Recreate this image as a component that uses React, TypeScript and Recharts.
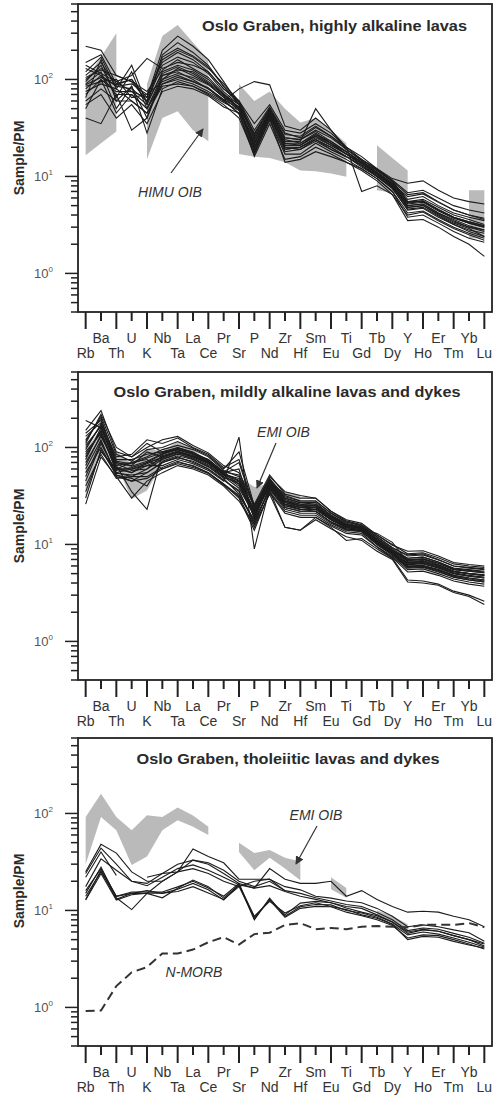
import React from 'react'
import { ComposedChart, Line, Area, XAxis, YAxis } from 'recharts'

// element order of the spider diagram
const elements = ['Rb', 'Ba', 'Th', 'U', 'K', 'Nb', 'Ta', 'La', 'Ce', 'Pr', 'Sr', 'P', 'Nd', 'Zr', 'Hf', 'Sm', 'Eu', 'Ti', 'Gd', 'Tb', 'Dy', 'Y', 'Ho', 'Er', 'Tm', 'Yb', 'Lu']

const xTicks = elements.map((_, i) => i)
const yTicks = [0.4, 0.5, 0.6, 0.7, 0.8, 0.9, 1, 2, 3, 4, 5, 6, 7, 8, 9, 10, 20, 30, 40, 50, 60, 70, 80, 90, 100, 200, 300, 400, 500, 600]
const yMajor = [1, 10, 100]

const N = null

// HIMU OIB field (top panel), low / high edge
const himuLow = [16.5, 22, 29, N, 15, 40, 47, 30, 23, N, 17, 16, 15.5, 14, 11.5, 11.3, 10.7, 9.9, N, 7.2, 6.8, 6.3, N, N, N, 2.3, 2.3]
const himuHigh = [100, 170, 300, N, 90, 280, 365, 240, 160, N, 90, 60, 75, 50, 36, 40, 30, 22, N, 21, 15.5, 11.5, N, N, N, 7.2, 7.2]

// EMI OIB field (middle and bottom panels)
const emiLow = [30, 92, 67, 29.5, 36, 67, 85, 73, 60, N, 40, 26, 35, 27, 20.5, N, 16.5, 13.5, N, 8.7, 7.0, 6.0, N, N, N, N, N]
const emiHigh = [92, 160, 92, 67, 96, 92, 115, 95, 73, N, 50, 39, 42, 35, 32, N, 22, 17, N, 10, 8.8, 7.2, N, N, N, N, N]

// N-MORB reference pattern
const nMorb = [0.92, 0.93, 1.66, 2.3, 2.6, 3.6, 3.6, 3.95, 4.7, 5.3, 4.45, 5.7, 5.9, 7.1, 7.4, 6.4, 6.6, 6.4, 6.8, 6.9, 6.8, 6.7, 7.1, 7.1, 7.1, 7.4, 6.7]

// highly alkaline lavas
const highlyAlkaline = [
    [220, 200, 110, 95, 60, 160, 200, 170, 130, 90, 60, 35, 55, 30, 28, 35, 28, 20, 16, 12, 9, 5.5, 5.8, 4.8, 4.0, 3.6, 3.2],
    [150, 180, 90, 100, 65, 200, 280, 220, 160, 95, 55, 28, 50, 25, 24, 30, 25, 19, 15, 11.5, 9, 6.5, 6.8, 5.5, 4.5, 4.0, 3.6],
    [120, 170, 80, 140, 55, 180, 240, 190, 140, 85, 55, 24, 48, 24, 22, 28, 22, 18, 14, 11, 8.5, 5.5, 5.5, 4.5, 3.8, 3.3, 3.0],
    [100, 130, 95, 110, 165, 130, 150, 140, 120, 80, 60, 30, 52, 28, 25, 32, 26, 20, 15, 12, 9.5, 8.5, 9.0, 7.2, 6.0, 5.5, 5.2],
    [80, 110, 70, 70, 50, 100, 130, 110, 90, 65, 48, 20, 42, 20, 20, 25, 21, 17, 13, 10.5, 8, 5, 5.2, 4.2, 3.5, 3.0, 2.8],
    [60, 80, 60, 60, 45, 90, 100, 90, 75, 60, 45, 18, 40, 18, 19, 24, 20, 16, 12.5, 10, 7.5, 4.6, 4.8, 3.9, 3.2, 2.8, 2.6],
    [40, 35, 70, 30, 40, 110, 120, 100, 80, 62, 50, 22, 44, 21, 21, 26, 21, 17, 13.5, 10.8, 8.2, 4.8, 5.0, 4.0, 3.3, 2.9, 2.4],
    [90, 120, 50, 85, 28, 80, 95, 85, 70, 55, 40, 17, 38, 17, 17, 22, 18, 15, 12, 9.5, 7, 4.2, 4.4, 3.6, 3.0, 2.6, 2.3],
    [110, 150, 85, 80, 60, 140, 170, 150, 115, 75, 55, 25, 46, 22, 22, 27, 23, 18, 14, 11.5, 8.8, 5.8, 6.2, 5.0, 4.2, 3.8, 3.5],
    [70, 100, 75, 75, 55, 120, 140, 125, 100, 70, 52, 21, 45, 21, 21, 27, 22, 17, 13.5, 10.5, 8.0, 5.2, 5.4, 4.4, 3.7, 3.3, 3.0],
    [85, 95, 100, 65, 70, 95, 110, 95, 80, 60, 80, 95, 88, 33, 30, 40, 30, 20, 7, 8, 6.5, 4.0, 4.3, 3.5, 2.9, 2.5, 2.2],
    [55, 70, 40, 55, 35, 75, 85, 80, 68, 52, 45, 16, 35, 15, 16, 20, 17, 14, 11.5, 9, 6.5, 3.5, 3.6, 3.0, 2.4, 2.0, 1.5],
    [130, 110, 85, 90, 70, 150, 190, 160, 120, 80, 58, 27, 50, 23, 23, 50, 30, 19, 14.5, 11, 8.5, 5.4, 5.6, 4.6, 3.8, 3.4, 3.1],
    [95, 140, 65, 120, 50, 110, 125, 120, 95, 70, 55, 19, 44, 19, 20, 24, 20, 16, 13, 10, 7.6, 4.5, 4.7, 3.8, 3.2, 2.7, 2.4],
    [75, 90, 80, 60, 45, 85, 90, 85, 72, 58, 48, 20, 42, 20, 19, 23, 19, 16, 13, 10, 7.8, 5.0, 5.2, 4.2, 3.6, 3.1, 2.8],
    [105, 125, 110, 95, 75, 125, 160, 130, 105, 72, 50, 23, 47, 25, 24, 29, 23, 18, 14, 11, 8.4, 6.2, 6.6, 5.4, 4.5, 4.0, 3.7],
    [65, 160, 60, 85, 40, 100, 115, 105, 88, 66, 52, 18, 43, 19, 20, 24, 19, 16, 13, 10.2, 7.8, 4.8, 5.0, 4.1, 3.4, 3.0, 2.7],
    [140, 115, 95, 75, 65, 170, 210, 175, 135, 85, 60, 26, 50, 27, 26, 33, 26, 19, 14.8, 11.8, 9.2, 6.8, 7.2, 6.0, 5.0, 4.5, 4.2],
    [50, 100, 45, 70, 50, 90, 105, 95, 82, 62, 44, 17, 40, 14, 15, 18, 16, 14, 12, 9.5, 7.0, 3.8, 4.0, 3.3, 2.7, 2.3, 2.1],
    [88, 105, 88, 100, 58, 115, 135, 115, 92, 68, 50, 22, 46, 22, 21, 26, 22, 17, 14, 10.8, 8.2, 5.3, 5.6, 4.5, 3.8, 3.4, 3.1],
]

// mildly alkaline lavas and dykes
const mildlyAlkaline = [
    [150, 240, 90, 80, 110, 90, 95, 85, 75, 55, 45, 22, 42, 28, 25, 25, 19, 16, 15, 11, 8.5, 6.8, 7.0, 6.2, 5.3, 5.0, 4.8],
    [120, 200, 70, 65, 90, 80, 90, 80, 70, 52, 40, 20, 40, 27, 24, 24, 18, 15.5, 14.5, 10.5, 8.2, 6.5, 6.6, 6.0, 5.2, 5.0, 4.8],
    [100, 170, 60, 55, 70, 85, 100, 90, 72, 55, 60, 18, 45, 30, 27, 26, 20, 16, 15, 11.5, 9, 7.2, 7.4, 6.6, 5.6, 5.4, 5.2],
    [80, 150, 55, 50, 60, 75, 85, 78, 66, 50, 42, 21, 41, 26, 24, 23, 18, 15, 14, 10.5, 8.3, 6.2, 6.3, 5.7, 5.0, 4.7, 4.5],
    [190, 160, 65, 70, 80, 95, 105, 95, 80, 58, 50, 25, 46, 32, 28, 28, 21, 17, 15.5, 12, 9.2, 7.8, 8.0, 7.0, 6.0, 5.8, 5.6],
    [60, 120, 50, 45, 55, 70, 80, 70, 60, 46, 35, 17, 38, 24, 22, 22, 17, 14.5, 13.8, 10, 7.8, 5.8, 5.9, 5.3, 4.6, 4.3, 4.1],
    [45, 110, 55, 60, 65, 65, 75, 68, 58, 45, 128, 9, 38, 25, 23, 22, 17, 14.5, 14, 10.5, 8.0, 6.0, 6.0, 5.5, 4.8, 4.5, 4.3],
    [130, 180, 80, 85, 120, 110, 125, 100, 85, 62, 75, 24, 50, 35, 32, 30, 22, 17.5, 16, 12.5, 9.8, 8.5, 8.6, 7.6, 6.5, 6.2, 6.0],
    [35, 90, 60, 70, 75, 60, 70, 65, 55, 42, 30, 14, 35, 22, 20, 20, 16, 13.5, 13, 9.5, 7.5, 5.5, 5.6, 5.0, 4.4, 4.1, 3.9],
    [26, 80, 50, 30, 45, 55, 65, 60, 52, 40, 28, 16, 33, 15, 14, 18, 14.5, 12, 11, 8.5, 7.0, 4.1, 4.0, 3.8, 3.2, 2.9, 2.4],
    [70, 130, 65, 35, 23, 85, 95, 85, 70, 52, 45, 19, 43, 27, 25, 24, 19, 15.5, 14.5, 10.8, 8.3, 6.4, 6.5, 5.9, 5.1, 4.8, 4.6],
    [110, 220, 100, 80, 100, 120, 130, 105, 88, 65, 55, 26, 52, 33, 30, 30, 22, 18, 16.5, 12.5, 10, 8.0, 8.2, 7.3, 6.3, 6.0, 5.8],
    [90, 140, 58, 62, 70, 78, 88, 80, 68, 50, 38, 20, 40, 26, 23, 23, 18, 15, 14.2, 10.4, 8.1, 6.3, 6.4, 5.8, 5.0, 4.7, 4.5],
    [55, 100, 52, 48, 40, 72, 82, 75, 63, 48, 33, 17, 37, 23, 21, 21, 16.5, 14, 13.5, 10, 7.8, 5.7, 5.8, 5.2, 4.6, 4.3, 4.1],
    [140, 190, 75, 75, 85, 90, 100, 88, 75, 56, 70, 23, 47, 30, 27, 27, 20, 16.5, 15.2, 11.5, 8.8, 7.0, 7.1, 6.4, 5.5, 5.3, 5.1],
    [75, 160, 68, 58, 60, 82, 92, 82, 70, 53, 48, 22, 44, 28, 25, 25, 19, 15.8, 14.8, 11, 8.6, 6.7, 6.8, 6.1, 5.3, 5.0, 4.9],
    [40, 85, 48, 50, 50, 62, 72, 64, 55, 42, 32, 18, 36, 15, 14, 19, 15, 11, 11.5, 9, 7.2, 4.3, 4.2, 3.9, 3.3, 3.0, 2.6],
    [95, 175, 72, 68, 78, 88, 98, 88, 74, 56, 52, 21, 44, 29, 26, 26, 19.5, 16.2, 15, 11.2, 8.6, 7.2, 7.4, 6.6, 5.7, 5.5, 5.3],
    [65, 135, 62, 55, 65, 76, 86, 76, 64, 49, 44, 19, 41, 25, 23, 23, 18, 15, 14, 10.3, 8, 6.0, 6.1, 5.5, 4.8, 4.5, 4.3],
    [115, 210, 85, 72, 95, 100, 115, 98, 82, 60, 90, 25, 48, 31, 28, 28, 21, 17, 15.8, 12, 9.3, 7.6, 7.8, 6.9, 6.0, 5.7, 5.5],
    [50, 115, 54, 52, 55, 70, 78, 72, 60, 46, 36, 16, 39, 24, 22, 22, 17, 14.2, 13.6, 10.1, 7.9, 5.9, 6.0, 5.4, 4.7, 4.4, 4.2],
    [85, 145, 60, 60, 68, 80, 90, 82, 70, 54, 42, 20, 42, 26, 24, 24, 18.5, 15.3, 14.5, 13, 10.5, 6.6, 6.7, 6.1, 5.3, 5.0, 4.8],
    [105, 165, 70, 64, 72, 86, 96, 86, 72, 54, 46, 23, 45, 28, 26, 25, 19, 16, 15, 11, 8.6, 6.9, 7.1, 6.4, 5.5, 5.3, 5.1],
    [30, 95, 52, 45, 48, 60, 68, 62, 54, 41, 31, 15, 34, 21, 19, 19, 15.5, 13, 12.5, 9.4, 7.3, 5.2, 5.3, 4.8, 4.2, 3.9, 3.7],
]

// tholeiitic lavas and dykes
const tholeiitic = [
    [16, 27, 14, 15, 15, 20, 25, 33, 30, 24, 19, 17, 27, 21, 19, 19, 20, 14, 16, 13, 11, 9.6, 9.8, 9.6, 8.7, 8.0, 6.8],
    [25, 48, 39, 25, 20, 20, 25, 43, 36, 31, 21, 21, 21, 17.6, 16.3, 14, 13.4, 12.5, 12, 10.5, 8.7, 6.8, 7.1, 6.8, 6.3, 5.9, 4.8],
    [24, 44, 30, 20, 19, 24, 30, 33, 31, 26, 20, 17.6, 20, 16, 15, 13.5, 12.5, 11.5, 11, 9.5, 8, 6.2, 6.6, 6.4, 5.8, 5.3, 4.6],
    [17.6, 34, 26, 20, 18, 22, 27, 29.5, 26, 22, 18.4, 17, 18, 15.7, 14, 13, 12, 11, 10.5, 9, 7.6, 5.8, 6.3, 6.1, 5.5, 5.0, 4.5],
    [15, 28, 13.5, 10.2, 15, 13.5, 16.9, 20.6, 17.6, 13.4, 18.4, 8.0, 13.4, 8.7, 10.9, 11.5, 11.4, 10, 9.4, 8.5, 7.2, 5.0, 5.4, 5.3, 4.8, 4.4, 4.1],
    [13, 26, 13, 15, 16, 15, 16.5, 19, 16.3, 12.8, 18.4, 8.7, 12.4, 9.4, 11.2, 12, 11, 10.2, 9, 8.3, 7.2, 5.6, 6.0, 5.7, 5.2, 4.7, 4.2],
    [14, 25, 14, 15.5, 15.5, 15.5, 17.5, 20, 17, 14, 19, 8.2, 13, 9, 11.9, 12.4, 12, 10.6, 9.6, 8.8, 7.6, 6.0, 6.4, 6.1, 5.5, 5.0, 4.3],
    [12.8, 24, 12.8, 14.5, 15.1, 15.1, 15.7, 17.6, 15.1, 13, 17.6, 8.5, 12.8, 8.5, 10.5, 11, 10.9, 9.6, 8.8, 8.0, 7.0, 5.2, 5.6, 5.5, 5.0, 4.5, 4.0],
    [22, 40, 23, N, N, N, N, N, N, N, N, N, N, N, N, N, N, N, N, N, N, N, N, N, N, N, N],
    [N, N, N, N, 22, 24, 25, 27, 24, 20, 17.6, 20, 21, 16, N, N, N, N, N, N, N, N, N, N, N, N, N],
]

const FONT = '"Liberation Sans", Arial, sans-serif'
const LINE = '#1c1c1c'
const FIELD = '#bababa'

// plot box: x 78..492, height 308, chart top + 4
const PLOT_LEFT = 78
const PLOT_WIDTH = 414
const PLOT_HEIGHT = 308
const panelTops = [0, 368, 734]

function buildRows(lines: (number | null)[][], low: (number | null)[], high: (number | null)[], morb?: number[]) {
    return elements.map((el, i) => {
        const row: Record<string, any> = {
            i,
            el,
            band: low[i] != null && high[i] != null ? [low[i], high[i]] : null,
        }
        lines.forEach((l, k) => { row[`s${k}`] = l[i] })
        if (morb) row.morb = morb[i]
        return row
    })
}

function ElementTick({ x, y, payload }: any) {
    const i = payload.value as number
    const upper = i % 2 === 1
    return (
        <g>
            <line x1={x} x2={x} y1={y} y2={y + (upper ? 9 : 17)} stroke="#222" strokeWidth={2} />
            <text x={x} y={y + (upper ? 31 : 46)} textAnchor="middle" fontSize={14} fill="#333" fontFamily={FONT}>
                {elements[i]}
            </text>
        </g>
    )
}

function LogTick({ x, y, payload }: any) {
    const v = payload.value as number
    const major = yMajor.includes(v)
    return (
        <g>
            <line x1={x - (major ? 13 : 7)} x2={x} y1={y} y2={y} stroke="#222" strokeWidth={1.5} />
            {major && (
                <text x={x - 25} y={y + 5} textAnchor="end" fontSize={13} fill="#555" fontFamily={FONT}>
                    10<tspan dy={-6} fontSize={8}>{Math.round(Math.log10(v))}</tspan>
                </text>
            )}
        </g>
    )
}

function Panel({ top, lines, low, high, morb }: {
    top: number
    lines: (number | null)[][]
    low: (number | null)[]
    high: (number | null)[]
    morb?: number[]
}) {
    const rows = buildRows(lines, low, high, morb)
    return (
        <div style={{ position: 'absolute', left: 0, top, width: 498, height: 362 }}>
            <ComposedChart width={498} height={362} data={rows} margin={{ top: 4, right: 6, bottom: 0, left: 0 }}>
                <XAxis
                    type="number"
                    dataKey="i"
                    domain={[-0.5, 26.5]}
                    ticks={xTicks}
                    interval={0}
                    tick={(p: any) => <ElementTick {...p} />}
                    tickSize={0}
                    tickMargin={0}
                    tickLine={false}
                    axisLine={false}
                    height={50}
                    allowDataOverflow
                />
                <YAxis
                    type="number"
                    scale="log"
                    domain={[0.4, 600]}
                    ticks={yTicks}
                    interval={0}
                    tick={(p: any) => <LogTick {...p} />}
                    tickSize={0}
                    tickMargin={0}
                    tickLine={false}
                    axisLine={false}
                    width={78}
                    allowDataOverflow
                />
                <Area dataKey="band" stroke="none" fill={FIELD} fillOpacity={1} isAnimationActive={false} connectNulls={false} />
                {lines.map((_, k) => (
                    <Line
                        key={k}
                        dataKey={`s${k}`}
                        stroke={LINE}
                        strokeWidth={1.1}
                        dot={false}
                        activeDot={false}
                        isAnimationActive={false}
                        connectNulls={false}
                    />
                ))}
                {morb && (
                    <Line
                        dataKey="morb"
                        stroke="#333"
                        strokeWidth={2}
                        strokeDasharray="9 5"
                        dot={false}
                        activeDot={false}
                        isAnimationActive={false}
                    />
                )}
            </ComposedChart>
        </div>
    )
}

function Annotations() {
    const title = { fontFamily: FONT, fontWeight: 700, fontSize: 15, fill: '#2a2a2a' } as const
    const note = { fontFamily: FONT, fontStyle: 'italic', fontSize: 14, fill: '#333' } as const
    const ylab = (cy: number) => (
        <text x={24} y={cy} transform={`rotate(-90 24 ${cy})`} textAnchor="middle" fontFamily={FONT} fontWeight={700} fontSize={14} fill="#2a2a2a">
            Sample/PM
        </text>
    )
    return (
        <svg width={498} height={1096} style={{ position: 'absolute', left: 0, top: 0, pointerEvents: 'none' }}>
            <defs>
                <marker id="head" viewBox="0 0 10 10" refX="9" refY="5" markerWidth="7" markerHeight="7" orient="auto">
                    <path d="M0,0 L10,5 L0,10 z" fill="#333" />
                </marker>
            </defs>

            {/* plot frames */}
            {panelTops.map((t) => (
                <rect key={t} x={PLOT_LEFT} y={t + 4} width={PLOT_WIDTH} height={PLOT_HEIGHT} fill="none" stroke="#222" strokeWidth={1.8} />
            ))}

            <text x={334.5} y={31} textAnchor="middle" textLength={265} lengthAdjust="spacingAndGlyphs" {...title}>
                Oslo Graben, highly alkaline lavas
            </text>
            <text x={287} y={397} textAnchor="middle" textLength={347} lengthAdjust="spacingAndGlyphs" {...title}>
                Oslo Graben, mildly alkaline lavas and dykes
            </text>
            <text x={288} y={764} textAnchor="middle" textLength={303} lengthAdjust="spacingAndGlyphs" {...title}>
                Oslo Graben, tholeiitic lavas and dykes
            </text>

            {ylab(158)}
            {ylab(526)}
            {ylab(891)}

            <text x={170} y={197} textAnchor="middle" {...note}>HIMU OIB</text>
            <line x1={171} y1={173} x2={203} y2={129} stroke="#333" strokeWidth={1.2} markerEnd="url(#head)" />

            <text x={283.5} y={437} textAnchor="middle" {...note}>EMI OIB</text>
            <line x1={276} y1={443} x2={257} y2={488} stroke="#333" strokeWidth={1.2} markerEnd="url(#head)" />

            <text x={316} y={820} textAnchor="middle" {...note}>EMI OIB</text>
            <line x1={317} y1={826} x2={296} y2={864} stroke="#333" strokeWidth={1.2} markerEnd="url(#head)" />

            <text x={194} y={977} textAnchor="middle" {...note}>N-MORB</text>
        </svg>
    )
}

export default function App() {
    return (
        <div style={{ position: 'absolute', left: 0, top: 0, width: 498, height: 1096, background: '#fff', fontFamily: FONT }}>
            <Panel top={panelTops[0]} lines={highlyAlkaline} low={himuLow} high={himuHigh} />
            <Panel top={panelTops[1]} lines={mildlyAlkaline} low={emiLow} high={emiHigh} />
            <Panel top={panelTops[2]} lines={tholeiitic} low={emiLow} high={emiHigh} morb={nMorb} />
            <Annotations />
        </div>
    )
}
